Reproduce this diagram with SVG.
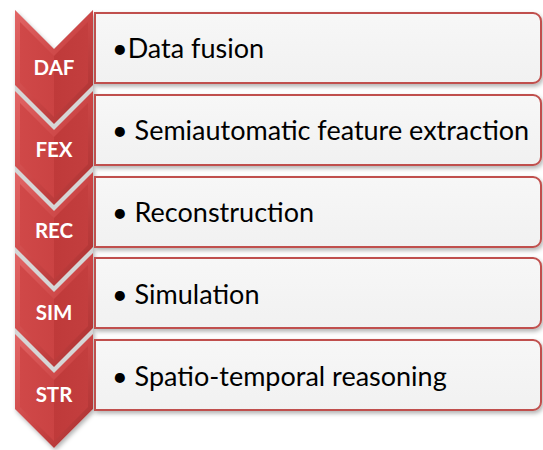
<svg xmlns="http://www.w3.org/2000/svg" width="543" height="450" viewBox="0 0 543 450">
  <defs>
    <linearGradient id="bevel" x1="0" y1="0" x2="1" y2="1">
      <stop offset="0" stop-color="#e26666"/>
      <stop offset="0.5" stop-color="#cc4646"/>
      <stop offset="1" stop-color="#a52e2e"/>
    </linearGradient>
    <linearGradient id="face" x1="0" y1="0" x2="1" y2="0">
      <stop offset="0" stop-color="#d04848"/>
      <stop offset="0.5" stop-color="#ca4343"/>
      <stop offset="0.5" stop-color="#bf3a3a"/>
      <stop offset="1" stop-color="#c33e3e"/>
    </linearGradient>
    <linearGradient id="boxfill" x1="0" y1="0" x2="0" y2="1">
      <stop offset="0" stop-color="#f7f7f7"/>
      <stop offset="1" stop-color="#f1f1f1"/>
    </linearGradient>
    <filter id="shadow" x="-5%" y="-10%" width="115%" height="130%">
      <feDropShadow dx="1.5" dy="2.5" stdDeviation="2" flood-color="#000" flood-opacity="0.3"/>
    </filter>
  </defs>
  <style>
    .box { fill: url(#boxfill); stroke: #c0504d; stroke-width: 2; filter: url(#shadow); }
    .outer { fill: url(#bevel); }
    .inner { fill: url(#face); }
    .tag { font-family: Lato, "Liberation Sans", sans-serif; font-weight: bold; font-size: 20.5px; fill: #ffffff; text-anchor: middle; }
    .item { font-family: Lato, "Liberation Sans", sans-serif; font-size: 27px; fill: #000000; }
  </style>

  <!-- separator band showing between chevrons -->
  <polygon points="15,10 54,49 93,10 93,409 54,448 15,409" fill="#d6d6d6" filter="url(#shadow)"/>

  <!-- text panels -->
  <g id="panel-daf">
    <path class="box" d="M95,13 H533 A8,8 0 0 1 541,21 V75 A8,8 0 0 1 533,83 H95 Z"/>
    <text class="item" x="112" y="58">•Data fusion</text>
  </g>
  <g id="panel-fex">
    <path class="box" d="M95,95 H533 A8,8 0 0 1 541,103 V157 A8,8 0 0 1 533,165 H95 Z"/>
    <text class="item" x="112" y="140">• Semiautomatic feature extraction</text>
  </g>
  <g id="panel-rec">
    <path class="box" d="M95,177 H533 A8,8 0 0 1 541,185 V239 A8,8 0 0 1 533,247 H95 Z"/>
    <text class="item" x="112" y="222">• Reconstruction</text>
  </g>
  <g id="panel-sim">
    <path class="box" d="M95,258 H533 A8,8 0 0 1 541,266 V320 A8,8 0 0 1 533,328 H95 Z"/>
    <text class="item" x="112" y="304">• Simulation</text>
  </g>
  <g id="panel-str">
    <path class="box" d="M95,340 H533 A8,8 0 0 1 541,348 V402 A8,8 0 0 1 533,410 H95 Z"/>
    <text class="item" x="112" y="386">• Spatio-temporal reasoning</text>
  </g>

  <!-- chevrons, each drawn over the one above -->
  <g id="chevron-daf">
    <polygon class="outer" points="15,10 54,49 93,10 93,85 54,124 15,85"/>
    <polygon class="inner" points="20,22 54,56 88,22 88,83 54,117 20,83"/>
    <text class="tag" x="54" y="75">DAF</text>
  </g>
  <g id="chevron-fex">
    <polygon class="outer" points="15,91 54,130 93,91 93,166 54,205 15,166"/>
    <polygon class="inner" points="20,103 54,137 88,103 88,164 54,198 20,164"/>
    <text class="tag" x="54" y="157">FEX</text>
  </g>
  <g id="chevron-rec">
    <polygon class="outer" points="15,172 54,211 93,172 93,247 54,286 15,247"/>
    <polygon class="inner" points="20,184 54,218 88,184 88,245 54,279 20,245"/>
    <text class="tag" x="54" y="238">REC</text>
  </g>
  <g id="chevron-sim">
    <polygon class="outer" points="15,253 54,292 93,253 93,328 54,367 15,328"/>
    <polygon class="inner" points="20,265 54,299 88,265 88,326 54,360 20,326"/>
    <text class="tag" x="54" y="320">SIM</text>
  </g>
  <g id="chevron-str">
    <polygon class="outer" points="15,334 54,373 93,334 93,409 54,448 15,409"/>
    <polygon class="inner" points="20,346 54,380 88,346 88,407 54,441 20,407"/>
    <text class="tag" x="54" y="402">STR</text>
  </g>
</svg>
